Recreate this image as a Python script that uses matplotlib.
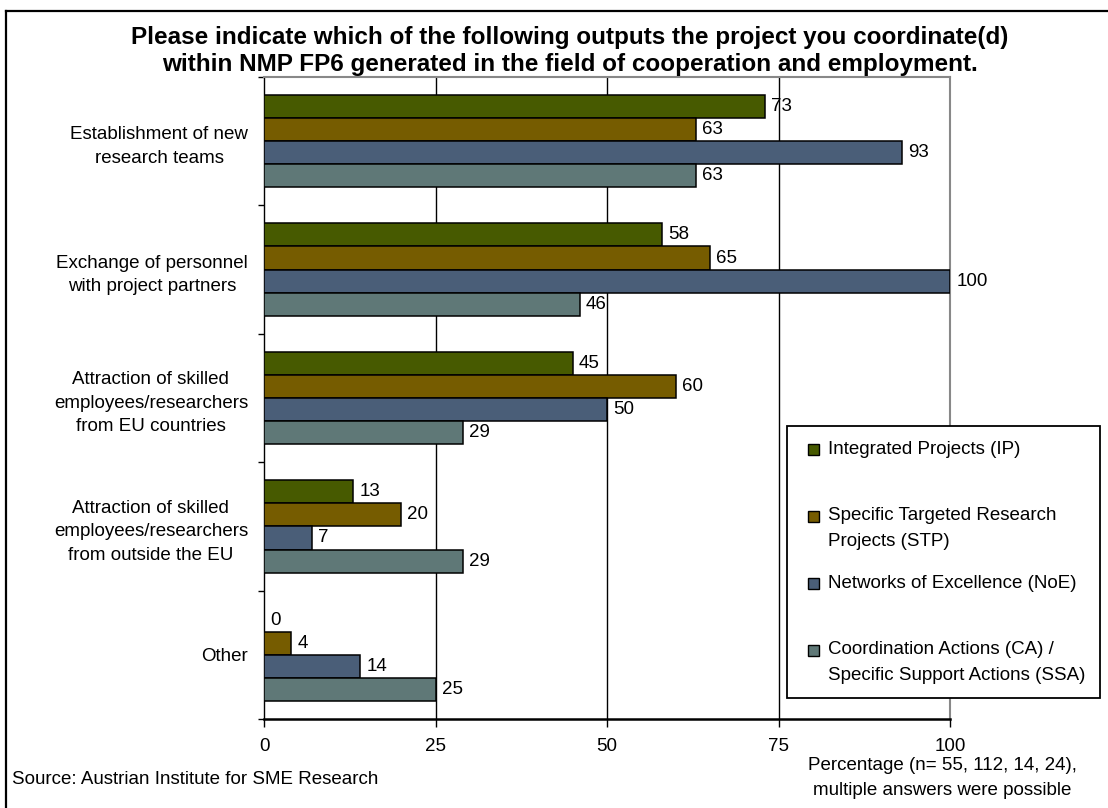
import matplotlib
matplotlib.use("Agg")
import matplotlib.pyplot as plt
import numpy as np
from matplotlib.patches import Rectangle
from matplotlib.lines import Line2D

plt.rcParams['font.family'] = ['Liberation Sans', 'DejaVu Sans']

# ---- data -------------------------------------------------------------
categories = [
    "Establishment of new\nresearch teams",
    "Exchange of personnel\nwith project partners",
    "Attraction of skilled\nemployees/researchers\nfrom EU countries",
    "Attraction of skilled\nemployees/researchers\nfrom outside the EU",
    "Other",
]
series_names = [
    "Integrated Projects (IP)",
    "Specific Targeted Research\nProjects (STP)",
    "Networks of Excellence (NoE)",
    "Coordination Actions (CA) /\nSpecific Support Actions (SSA)",
]
ip_values = [73, 58, 45, 13, 0]
stp_values = [63, 65, 60, 20, 4]
noe_values = [93, 100, 50, 7, 14]
ca_values = [63, 46, 29, 29, 25]
x_ticks = [0, 25, 50, 75, 100]

title = ("Please indicate which of the following outputs the project you coordinate(d)\n"
         "within NMP FP6 generated in the field of cooperation and employment.")
source_note = "Source: Austrian Institute for SME Research"
axis_note = "Percentage (n= 55, 112, 14, 24),\nmultiple answers were possible"

colors = ["#475A00", "#765C00", "#4A5E78", "#5F7877"]

# ---- figure -------------------------------------------------------------
W, H = 1108, 808
fig = plt.figure(figsize=(W / 100, H / 100), dpi=100)


def fx(px):
    return px / W


def fy(py):
    return 1 - py / H


ax = fig.add_axes([fx(264), fy(719), fx(950) - fx(264), fy(77) - fy(719)])

FS = 13.5
bar_h = 0.18
offsets = [-0.27, -0.09, 0.09, 0.27]
centers = np.arange(len(categories))
all_series = [ip_values, stp_values, noe_values, ca_values]

for vals, off, col in zip(all_series, offsets, colors):
    ypos = centers + off
    ax.barh(ypos, vals, height=bar_h, color=col, edgecolor="black",
            linewidth=1.1, zorder=3)
    for v, y in zip(vals, ypos):
        ax.annotate(f"{v}", (v, y), xytext=(4.5, 0), textcoords="offset points",
                    ha="left", va="center", fontsize=FS, zorder=4)

for g in x_ticks[1:-1]:
    ax.axvline(g, color="black", linewidth=1.0, zorder=1)

ax.set_xlim(0, 100)
ax.set_ylim(len(categories) - 0.5, -0.5)

ax.set_xticks(x_ticks)
ax.set_xticklabels([str(t) for t in x_ticks], fontsize=FS)
ax.tick_params(axis="x", length=6, width=1.0, pad=8, color="black")

ax.set_yticks(centers)
ax.set_yticklabels(categories, fontsize=FS, multialignment="center",
                   linespacing=1.5)
ax.tick_params(axis="y", which="major", length=0, pad=11.5)
ax.set_yticks(np.arange(len(categories) + 1) - 0.5, minor=True)
ax.tick_params(axis="y", which="minor", length=4.5, width=1.0, color="black")

ax.spines["left"].set_color("black")
ax.spines["left"].set_linewidth(1.0)
ax.spines["bottom"].set_color("black")
ax.spines["bottom"].set_linewidth(1.8)
for s in ("top", "right"):
    ax.spines[s].set_color("#888888")
    ax.spines[s].set_linewidth(1.5)

# ---- title and notes ---------------------------------------------------
fig.text(fx(570), fy(51), title, ha="center", va="center", fontsize=17.5,
         fontweight="bold", linespacing=1.19)
fig.text(fx(12), fy(780), source_note, ha="left", va="center", fontsize=FS)
fig.text(fx(942), fy(778), axis_note, ha="center", va="center", fontsize=FS,
         linespacing=1.6)

# ---- legend box ----------------------------------------------------------
fig.add_artist(Rectangle((fx(787), fy(698)), fx(1100) - fx(787), fy(426) - fy(698),
                         transform=fig.transFigure, facecolor="white",
                         edgecolor="black", linewidth=1.3, zorder=5))
entry_y = [449, 516, 583, 650]
for name, col, ey in zip(series_names, colors, entry_y):
    fig.add_artist(Rectangle((fx(808), fy(ey + 5.5)), fx(11), 11 / H,
                             transform=fig.transFigure, facecolor=col,
                             edgecolor="black", linewidth=1.0, zorder=6))
    for k, line in enumerate(name.split("\n")):
        fig.text(fx(828), fy(ey + 25 * k), line, ha="left", va="center",
                 fontsize=FS, zorder=7)

# ---- outer frame ---------------------------------------------------------
fig.add_artist(Line2D([fx(6), fx(6)], [fy(11), 0], transform=fig.transFigure,
                      color="black", linewidth=1.6))
fig.add_artist(Line2D([fx(6), 1], [fy(11), fy(11)], transform=fig.transFigure,
                      color="black", linewidth=1.6))

fig.savefig("out.png", dpi=100)
